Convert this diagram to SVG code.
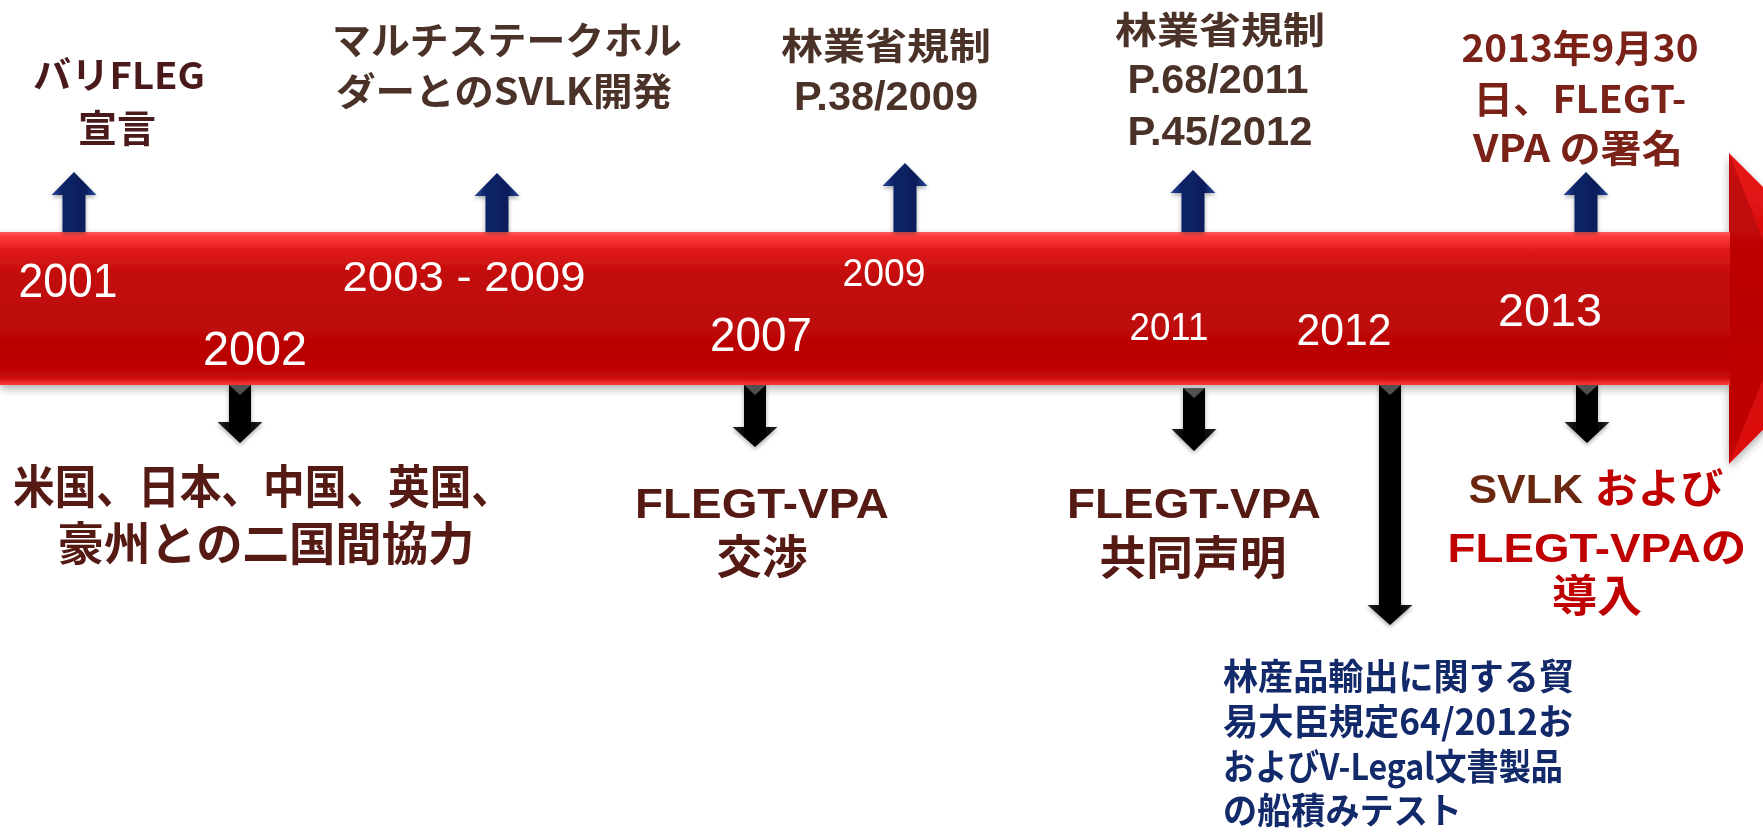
<svg xmlns="http://www.w3.org/2000/svg" width="1763" height="833" viewBox="0 0 1763 833">
<defs>
<style>
.yr{font-family:"Liberation Sans","DejaVu Sans",sans-serif;fill:#ffffff;text-anchor:middle}
.jp{font-family:"Noto Sans CJK JP","Liberation Sans",sans-serif;font-weight:bold;text-anchor:middle}
.lat{font-family:"Liberation Sans","Noto Sans CJK JP",sans-serif;font-weight:bold;text-anchor:middle}
.c1{fill:#4a1a1a}
.c2{fill:#4a3228}
.c3{fill:#7a2218}
.c4{fill:#551a14}
.c5{fill:#6a2810}
.red{fill:#c00000}
.blue{fill:#12296a;font-family:"Noto Sans CJK JP",sans-serif;font-weight:bold}
.up{fill:url(#upGrad);filter:url(#sh)}
.dn{fill:url(#dnGrad);filter:url(#sh)}
.bev{fill:#505050}
</style>
<linearGradient id="bandGrad" x1="0" y1="0" x2="0" y2="1">
<stop offset="0" stop-color="#ff5a5a"/>
<stop offset="0.03" stop-color="#ff3b3b"/>
<stop offset="0.12" stop-color="#e01a1a"/>
<stop offset="0.28" stop-color="#c20c0c"/>
<stop offset="0.85" stop-color="#ba0404"/>
<stop offset="0.95" stop-color="#c80808"/>
<stop offset="1" stop-color="#ff3a3a"/>
</linearGradient>
<linearGradient id="headGrad" x1="0" y1="0" x2="0" y2="1">
<stop offset="0" stop-color="#e81616"/>
<stop offset="0.5" stop-color="#d00a0a"/>
<stop offset="1" stop-color="#e01010"/>
</linearGradient>
<linearGradient id="upGrad" x1="0" y1="0" x2="1" y2="0">
<stop offset="0" stop-color="#2a4898"/>
<stop offset="0.25" stop-color="#0c2266"/>
<stop offset="0.75" stop-color="#0a1e5c"/>
<stop offset="1" stop-color="#2a4898"/>
</linearGradient>
<linearGradient id="dnGrad" x1="0" y1="0" x2="1" y2="0">
<stop offset="0" stop-color="#2a2a2a"/>
<stop offset="0.3" stop-color="#000000"/>
<stop offset="0.7" stop-color="#000000"/>
<stop offset="1" stop-color="#2a2a2a"/>
</linearGradient>
<filter id="sh" x="-30%" y="-30%" width="160%" height="160%">
<feDropShadow dx="0" dy="2" stdDeviation="2" flood-color="#000" flood-opacity="0.35"/>
</filter>
<filter id="bandSh" x="-5%" y="-20%" width="110%" height="150%">
<feDropShadow dx="0" dy="4" stdDeviation="4" flood-color="#000" flood-opacity="0.3"/>
</filter>
</defs>
<rect width="1763" height="833" fill="#ffffff"/>

<g id="timeline" filter="url(#bandSh)">
<polygon points="1729,153 1884,308 1729,464" fill="url(#headGrad)"/>
<polygon points="1729,153 1763,240 1763,380 1729,464" fill="#a80000" opacity="0.55"/>
<rect x="0" y="232" width="1730" height="153" fill="url(#bandGrad)"/>
</g>

<g id="connectors">
<polygon class="up" points="74,172 96.5,195 85.5,195 85.5,232 62.5,232 62.5,195 51.5,195"/>
<polygon class="up" points="497,173 519.5,196 508.5,196 508.5,232 485.5,232 485.5,196 474.5,196"/>
<polygon class="up" points="905,163 927.5,186 916.5,186 916.5,232 893.5,232 893.5,186 882.5,186"/>
<polygon class="up" points="1193,170 1215.5,193 1204.5,193 1204.5,232 1181.5,232 1181.5,193 1170.5,193"/>
<polygon class="up" points="1586,172 1608.5,195 1597.5,195 1597.5,232 1574.5,232 1574.5,195 1563.5,195"/>
<polygon class="dn" points="229,385 251,385 251,422 262.5,422 240,443 217.5,422 229,422"/>
<polygon class="bev" points="229,385 251,385 240,395"/>
<polygon class="dn" points="744,385 766,385 766,427 777.5,427 755,447 732.5,427 744,427"/>
<polygon class="bev" points="744,385 766,385 755,395"/>
<polygon class="dn" points="1183,388 1205,388 1205,429 1216.5,429 1194,451 1171.5,429 1183,429"/>
<polygon class="bev" points="1183,388 1205,388 1194,398"/>
<polygon class="dn" points="1379,385 1401,385 1401,605 1412.5,605 1390,625 1367.5,605 1379,605"/>
<polygon class="bev" points="1379,385 1401,385 1390,395"/>
<polygon class="dn" points="1576,385 1598,385 1598,422 1609.5,422 1587,443 1564.5,422 1576,422"/>
<polygon class="bev" points="1576,385 1598,385 1587,395"/>
</g>

<g id="years">
<text class="yr" x="68" y="297" font-size="48" textLength="99" lengthAdjust="spacingAndGlyphs">2001</text>
<text class="yr" x="255" y="365" font-size="48" textLength="104" lengthAdjust="spacingAndGlyphs">2002</text>
<text class="yr" x="464" y="291" font-size="43" textLength="243" lengthAdjust="spacingAndGlyphs">2003 - 2009</text>
<text class="yr" x="761" y="351" font-size="49" textLength="102" lengthAdjust="spacingAndGlyphs">2007</text>
<text class="yr" x="884" y="286" font-size="39" textLength="83" lengthAdjust="spacingAndGlyphs">2009</text>
<text class="yr" x="1169" y="340" font-size="38" textLength="79" lengthAdjust="spacingAndGlyphs">2011</text>
<text class="yr" x="1344" y="345" font-size="44" textLength="95" lengthAdjust="spacingAndGlyphs">2012</text>
<text class="yr" x="1550" y="326" font-size="47" textLength="104" lengthAdjust="spacingAndGlyphs">2013</text>
</g>

<g id="node-2001">
<text class="jp c1" x="119" y="89" font-size="37" textLength="172" lengthAdjust="spacingAndGlyphs">バリFLEG</text>
<text class="jp c1" x="117" y="142" font-size="38" textLength="78" lengthAdjust="spacingAndGlyphs">宣言</text>
</g>

<g id="node-2002">
<text class="jp c4" x="263" y="503" font-size="46" textLength="500" lengthAdjust="spacingAndGlyphs">米国、日本、中国、英国、</text>
<text class="jp c4" x="266" y="560" font-size="46" textLength="417" lengthAdjust="spacingAndGlyphs">豪州との二国間協力</text>
</g>

<g id="node-2003-2009">
<text class="jp c2" x="507" y="54" font-size="38" textLength="350" lengthAdjust="spacingAndGlyphs">マルチステークホル</text>
<text class="jp c2" x="504" y="105" font-size="38" textLength="336" lengthAdjust="spacingAndGlyphs">ダーとのSVLK開発</text>
</g>

<g id="node-2007">
<text class="lat c4" x="762" y="518" font-size="43" textLength="254" lengthAdjust="spacingAndGlyphs">FLEGT-VPA</text>
<text class="jp c4" x="762" y="573" font-size="46" textLength="91" lengthAdjust="spacingAndGlyphs">交渉</text>
</g>

<g id="node-2009">
<text class="jp c2" x="886" y="60" font-size="37" textLength="210" lengthAdjust="spacingAndGlyphs">林業省規制</text>
<text class="lat c2" x="886" y="110" font-size="41" textLength="184" lengthAdjust="spacingAndGlyphs">P.38/2009</text>
</g>

<g id="node-2011-top">
<text class="jp c2" x="1220" y="44" font-size="37" textLength="210" lengthAdjust="spacingAndGlyphs">林業省規制</text>
<text class="lat c2" x="1218" y="93" font-size="41" textLength="181" lengthAdjust="spacingAndGlyphs">P.68/2011</text>
<text class="lat c2" x="1220" y="145" font-size="41" textLength="185" lengthAdjust="spacingAndGlyphs">P.45/2012</text>
</g>

<g id="node-2011">
<text class="lat c4" x="1194" y="518" font-size="43" textLength="254" lengthAdjust="spacingAndGlyphs">FLEGT-VPA</text>
<text class="jp c4" x="1193" y="574" font-size="46" textLength="187" lengthAdjust="spacingAndGlyphs">共同声明</text>
</g>

<g id="node-2012">
<text class="blue" x="1223" y="690" font-size="36" textLength="351" lengthAdjust="spacingAndGlyphs">林産品輸出に関する貿</text>
<text class="blue" x="1223" y="735" font-size="36" textLength="350" lengthAdjust="spacingAndGlyphs">易大臣規定64/2012お</text>
<text class="blue" x="1223" y="780" font-size="36" textLength="340" lengthAdjust="spacingAndGlyphs">およびV-Legal文書製品</text>
<text class="blue" x="1223" y="824" font-size="36" textLength="239" lengthAdjust="spacingAndGlyphs">の船積みテスト</text>
</g>

<g id="node-2013-top">
<text class="jp c3" x="1580" y="62" font-size="38" textLength="237" lengthAdjust="spacingAndGlyphs">2013年9月30</text>
<text class="jp c3" x="1580" y="113" font-size="38" textLength="213" lengthAdjust="spacingAndGlyphs">日、FLEGT-</text>
<text class="jp c3" x="1578" y="162" font-size="38" textLength="210" lengthAdjust="spacingAndGlyphs">VPA の署名</text>
</g>

<g id="node-2013">
<text class="lat" x="1596" y="503" font-size="41" textLength="255" lengthAdjust="spacingAndGlyphs"><tspan class="c5">SVLK </tspan><tspan class="red">および</tspan></text>
<text class="lat red" x="1597" y="562" font-size="41" textLength="299" lengthAdjust="spacingAndGlyphs">FLEGT-VPAの</text>
<text class="jp red" x="1597" y="612" font-size="44" textLength="90" lengthAdjust="spacingAndGlyphs">導入</text>
</g>
</svg>
